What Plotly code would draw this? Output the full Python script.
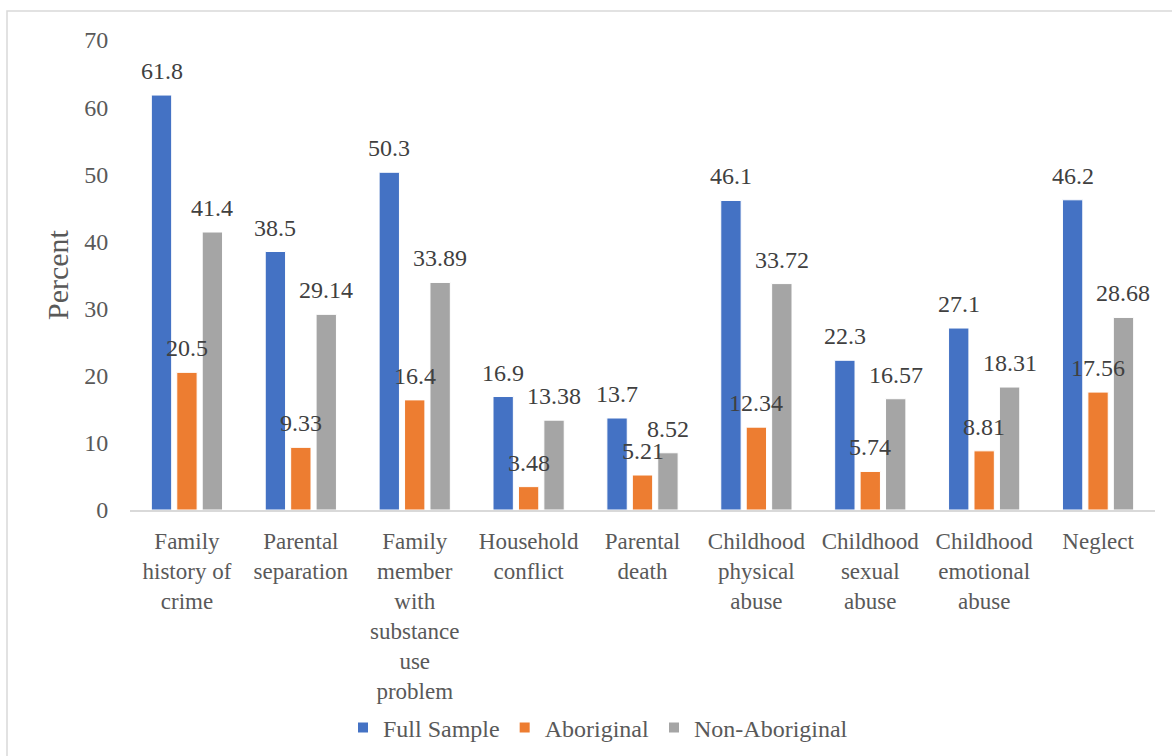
import plotly.graph_objects as go

categories = [
    "Family<br>history of<br>crime",
    "Parental<br>separation",
    "Family<br>member<br>with<br>substance<br>use<br>problem",
    "Household<br>conflict",
    "Parental<br>death",
    "Childhood<br>physical<br>abuse",
    "Childhood<br>sexual<br>abuse",
    "Childhood<br>emotional<br>abuse",
    "Neglect",
]
full_sample = [61.8, 38.5, 50.3, 16.9, 13.7, 46.1, 22.3, 27.1, 46.2]
aboriginal = [20.5, 9.33, 16.4, 3.48, 5.21, 12.34, 5.74, 8.81, 17.56]
non_aboriginal = [41.4, 29.14, 33.89, 13.38, 8.52, 33.72, 16.57, 18.31, 28.68]
full_labels = ["61.8", "38.5", "50.3", "16.9", "13.7", "46.1", "22.3", "27.1", "46.2"]
abor_labels = ["20.5", "9.33", "16.4", "3.48", "5.21", "12.34", "5.74", "8.81", "17.56"]
non_labels = ["41.4", "29.14", "33.89", "13.38", "8.52", "33.72", "16.57", "18.31", "28.68"]

series = [
    ("Full Sample", full_sample, full_labels, "#4472C4"),
    ("Aboriginal", aboriginal, abor_labels, "#ED7D31"),
    ("Non-Aboriginal", non_aboriginal, non_labels, "#A5A5A5"),
]

FONT = "Liberation Serif, Times New Roman, serif"
W, H = 1172, 756
ML, MR, MT, MB = 130, 17, 40, 246
BARGAP = 0.33
BARGROUPGAP = 0.2

fig = go.Figure()
for name, vals, labs, color in series:
    fig.add_trace(go.Bar(
        name=name, x=categories, y=vals,
        marker=dict(color=color, line=dict(color="white", width=1)),
    ))

# value labels above each bar
slot = (1 - BARGAP) / 3
for si, (name, vals, labs, color) in enumerate(series):
    for ci, (v, lab) in enumerate(zip(vals, labs)):
        fig.add_annotation(
            x=ci + (si - 1) * slot, y=v, xref="x", yref="y",
            text=lab, showarrow=False, yanchor="bottom", yshift=9,
            font=dict(family=FONT, size=24, color="#404040"),
        )

pw = W - ML - MR
ph = H - MT - MB
# outer chart border (top and left visible)
fig.add_shape(
    type="rect", xref="paper", yref="paper",
    x0=(7 - ML) / pw, x1=(W + 10 - ML) / pw,
    y0=(H - MB - (H + 10)) / ph, y1=(H - MB - 11) / ph,
    line=dict(color="#D9D9D9", width=1.5), fillcolor="rgba(0,0,0,0)", layer="below",
)

fig.update_layout(
    width=W, height=H,
    margin=dict(l=ML, r=MR, t=MT, b=MB, autoexpand=False),
    paper_bgcolor="white", plot_bgcolor="white",
    barmode="group", bargap=BARGAP, bargroupgap=BARGROUPGAP,
    font=dict(family=FONT, size=24, color="#595959"),
    showlegend=True,
    legend=dict(
        orientation="h", x=(598 - ML) / pw, xanchor="center",
        y=(H - MB - 728) / ph, yanchor="middle",
        font=dict(family=FONT, size=24, color="#595959"),
        itemsizing="constant", traceorder="normal",
    ),
    xaxis=dict(
        automargin=False,
        showgrid=False, showline=True, linecolor="#D9D9D9", linewidth=1.5,
        ticks="outside", ticklen=10, tickcolor="rgba(0,0,0,0)",
        tickangle=0, tickfont=dict(family=FONT, size=23, color="#595959"),
    ),
    yaxis=dict(
        automargin=False,
        range=[0, 70], dtick=10, showgrid=False, showline=False, zeroline=False,
        ticks="outside", ticklen=16, tickcolor="rgba(0,0,0,0)",
        tickfont=dict(family=FONT, size=24, color="#595959"),
        title=dict(text="Percent", font=dict(family=FONT, size=30, color="#595959"), standoff=6),
    ),
)

fig.write_html("out.html")
